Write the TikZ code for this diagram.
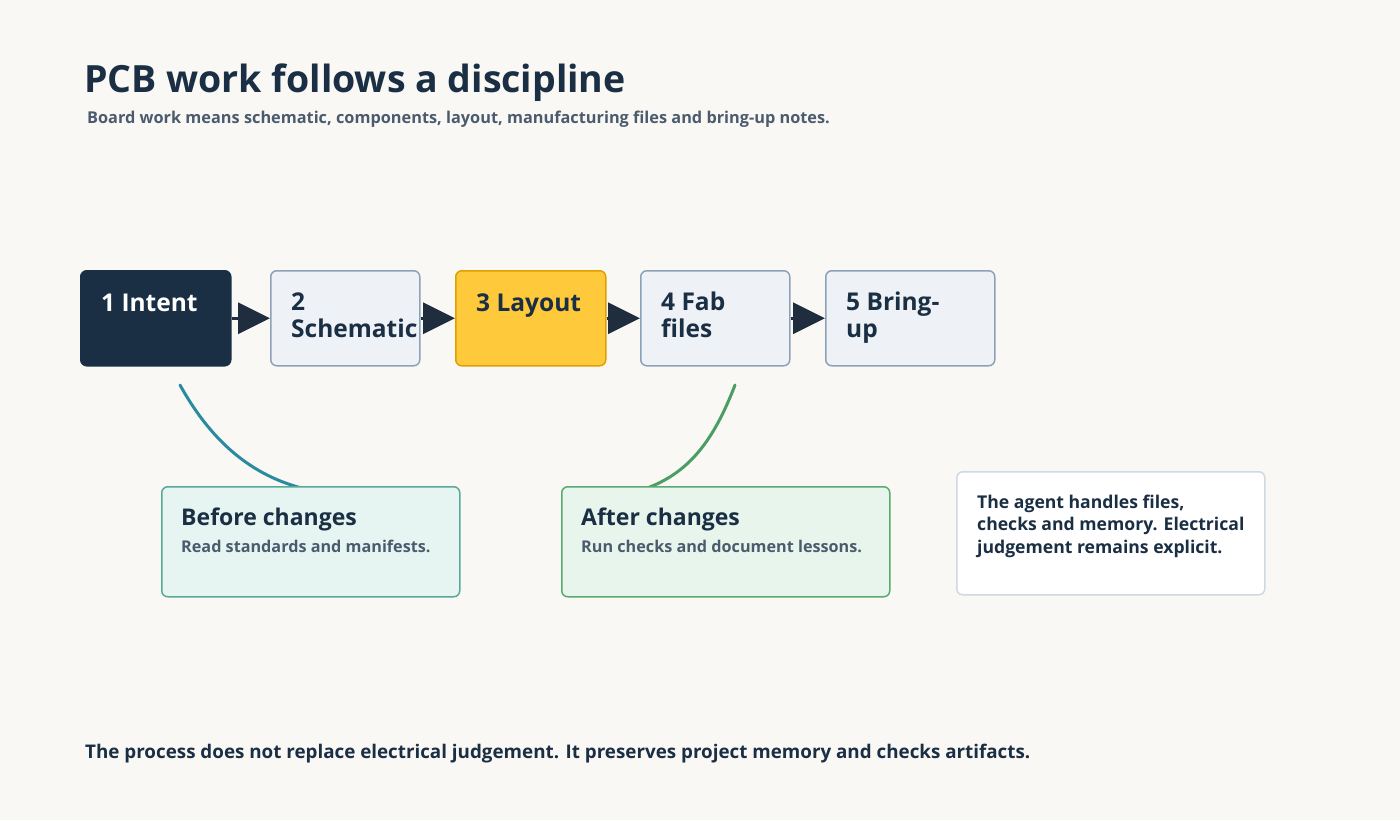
\documentclass[tikz,border=0pt]{standalone}
\usepackage{fontspec}
\setmainfont{Open Sans}
\usetikzlibrary{arrows.meta}
\definecolor{bg}{HTML}{F9F8F4}
\definecolor{ink}{HTML}{1A2E44}
\definecolor{sub}{HTML}{4B5B6E}
\definecolor{arr}{HTML}{1F2D3F}
\definecolor{stepfill}{HTML}{EEF2F7}
\definecolor{stepline}{HTML}{8DA2B8}
\definecolor{gold}{HTML}{FFC93C}
\definecolor{goldline}{HTML}{E0A100}
\definecolor{tealfill}{HTML}{E6F5F2}
\definecolor{tealline}{HTML}{5AA898}
\definecolor{tealcurve}{HTML}{2A8AA0}
\definecolor{greenfill}{HTML}{E8F5EC}
\definecolor{greenline}{HTML}{5AAA72}
\definecolor{greencurve}{HTML}{4A9E64}
\definecolor{noteline}{HTML}{CFD8E3}
\tikzset{
  stepbox/.style={draw=stepline, fill=stepfill, line width=1.5pt, rounded corners=6pt},
  steptxt/.style={anchor=base west, align=left, text=ink, font=\fontsize{24.5}{26.5}\selectfont\bfseries, inner sep=0pt},
  flow/.style={draw=arr, line width=3pt, -{Triangle[length=32pt,width=31pt]}},
  cardtitle/.style={anchor=base west, text=ink, font=\fontsize{23}{27}\selectfont\bfseries, inner sep=0pt},
  cardsub/.style={anchor=base west, text=sub, font=\fontsize{16.2}{19}\selectfont\bfseries, inner sep=0pt},
}
\begin{document}
\begin{tikzpicture}[x=1pt,y=-1pt]
\fill[bg] (0,0) rectangle (1400,820);
\useasboundingbox (0,0) rectangle (1400,820);

% title
\node[anchor=base west, inner sep=0pt, text=ink, font=\fontsize{37.5}{44}\selectfont\bfseries] (title) at (84,92) {PCB work follows a discipline};
\node[anchor=base west, inner sep=0pt, text=sub, font=\fontsize{16.3}{19}\selectfont\bfseries] (subtitle) at (87,123) {Board work means schematic, components, layout, manufacturing files and bring-up notes.};

% curves (drawn first, cards cover their ends)
\coordinate (c1s) at (180,385);
\coordinate (c1e) at (320,492);
\coordinate (c2s) at (735,385);
\coordinate (c2e) at (635,492);
\draw[tealcurve, line width=3pt, line cap=round] (c1s) .. controls (215,448) and (260,482) .. (c1e);
\draw[greencurve, line width=3pt, line cap=round] (c2s) .. controls (712,445) and (685,478) .. (c2e);

% step boxes
\node[draw=ink, fill=ink, line width=1.5pt, rounded corners=6pt, minimum width=150pt, minimum height=95pt, anchor=north west] (s1) at (80,270) {};
\node[stepbox, minimum width=149pt, minimum height=95pt, anchor=north west] (s2) at (270,270) {};
\node[draw=goldline, fill=gold, line width=1.5pt, rounded corners=6pt, minimum width=150pt, minimum height=95pt, anchor=north west] (s3) at (455,270) {};
\node[stepbox, minimum width=149pt, minimum height=95pt, anchor=north west] (s4) at (640,270) {};
\node[stepbox, minimum width=169pt, minimum height=95pt, anchor=north west] (s5) at (825,270) {};

\node[steptxt, text=white] (t1) at (101,311) {1 Intent};
\node[steptxt] (t2) at (291,337) {2\\Schematic};
\node[steptxt] (t3) at (476,311) {3 Layout};
\node[steptxt] (t4) at (661,337) {4 Fab\\files};
\node[steptxt] (t5) at (846,337) {5 Bring-\\up};

\draw[flow] (s1.east) -- (s2.west);
\draw[flow] (s2.east) -- (s3.west);
\draw[flow] (s3.east) -- (s4.west);
\draw[flow] (s4.east) -- (s5.west);

% cards
\node[draw=tealline, fill=tealfill, line width=1.5pt, rounded corners=6pt, minimum width=298pt, minimum height=110pt, anchor=north west] (before) at (161,486) {};
\node[cardtitle] (bt) at (181,525) {Before changes};
\node[cardsub] (bs) at (181,552) {Read standards and manifests.};

\node[draw=greenline, fill=greenfill, line width=1.5pt, rounded corners=6pt, minimum width=328pt, minimum height=110pt, anchor=north west] (after) at (561,486) {};
\node[cardtitle] (at) at (581,525) {After changes};
\node[cardsub] (as) at (581,552) {Run checks and document lessons.};

\node[draw=noteline, fill=white, line width=1.5pt, rounded corners=6pt, minimum width=308pt, minimum height=123pt, anchor=north west] (note) at (956,471) {};
\node[anchor=base west, inner sep=0pt, align=left, text=ink, font=\fontsize{17.6}{22.5}\selectfont\bfseries] (nt) at (977,553) {The agent handles files,\\checks and memory. Electrical\\judgement remains explicit.};

% footer
\node[anchor=base west, inner sep=0pt, text=ink, font=\fontsize{18.8}{22}\selectfont\bfseries] (foot) at (85,758) {The process does not replace electrical judgement. It preserves project memory and checks artifacts.};
\end{tikzpicture}
\end{document}
